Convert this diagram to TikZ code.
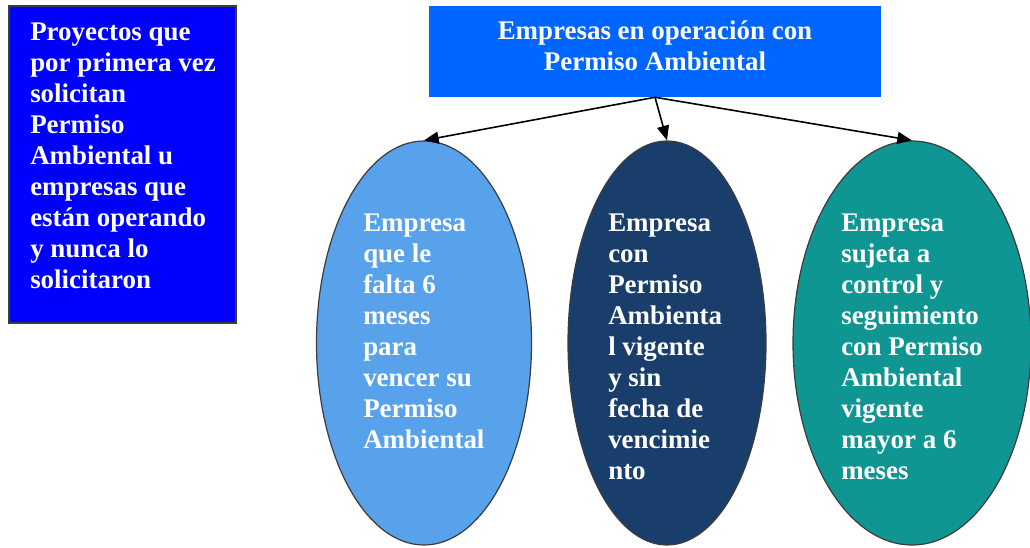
\documentclass[tikz,border=0pt]{standalone}
\usepackage{fontspec}
\setmainfont{Liberation Serif}
\usepackage{tikz}
\usetikzlibrary{positioning}
\usetikzlibrary{arrows,arrows.meta,shapes}
\definecolor{azulfuerte}{RGB}{0,0,255}
\definecolor{azulcielo}{RGB}{0,102,255}
\definecolor{celeste}{RGB}{88,162,236}
\definecolor{marino}{RGB}{26,62,108}
\definecolor{verdeazul}{RGB}{16,150,146}
\definecolor{borde}{RGB}{60,60,60}
\newcommand{\letra}{\fontsize{20.2}{23.25}\selectfont\bfseries}
\tikzstyle{caja}=[rectangle,draw=borde,line width=1pt,fill=azulfuerte,minimum width=170.25pt,minimum height=237.75pt,inner sep=0pt]
\tikzstyle{titulo}=[rectangle,fill=azulcielo,minimum width=339pt,minimum height=68.25pt,inner sep=0pt]
\tikzstyle{ovalo}=[ellipse,draw=borde,line width=0.9pt,inner sep=0pt,minimum height=303pt]
\tikzstyle{texto}=[inner sep=0pt,text=white,font=\letra]
\tikzstyle{edge} = [draw,line width=1.2pt,-{Triangle[length=11pt,width=9pt]}]

\begin{document}
\begin{tikzpicture}[x=0.75pt,y=-0.75pt]
    \useasboundingbox (0,0) rectangle (1030,548);

    % cajas
    \node[caja] (nuevos) at (122.5,164.5) {};
    \node[titulo] (operacion) at (655,51.5) {};

    \foreach \pos/\name/\ancho/\relleno in {{(424,343)/vence/161.25pt/celeste}, {(667,343)/vigente/148.5pt/marino}, {(912,343)/control/178.5pt/verdeazul}}
        \node[ovalo,minimum width=\ancho,fill=\relleno] (\name) at \pos {};

    % textos
    \node[texto,anchor=north west,align=left] (nuevostxt) at (30,23) {Proyectos que\\por primera vez\\solicitan\\Permiso\\Ambiental u\\empresas que\\están operando\\y nunca lo\\solicitaron};
    \node[texto,align=center] (operaciontxt) at (655,46) {Empresas en operación con\\Permiso Ambiental};
    \node[texto,anchor=north west,align=left] (vencetxt) at (363,214) {Empresa\\que le\\falta 6\\meses\\para\\vencer su\\Permiso\\Ambiental};
    \node[texto,anchor=north west,align=left] (vigentetxt) at (608,214) {Empresa\\con\\Permiso\\Ambienta\\l vigente\\y sin\\fecha de\\vencimie\\nto};
    \node[texto,anchor=north west,align=left] (controltxt) at (841,214) {Empresa\\sujeta a\\control y\\seguimiento\\con Permiso\\Ambiental\\vigente\\mayor a 6\\meses};

    \foreach \source/ \dest in {operacion/vence, operacion/vigente, operacion/control}
        \path[edge] (\source.south) -- (\dest.north);

\end{tikzpicture}
\end{document}
